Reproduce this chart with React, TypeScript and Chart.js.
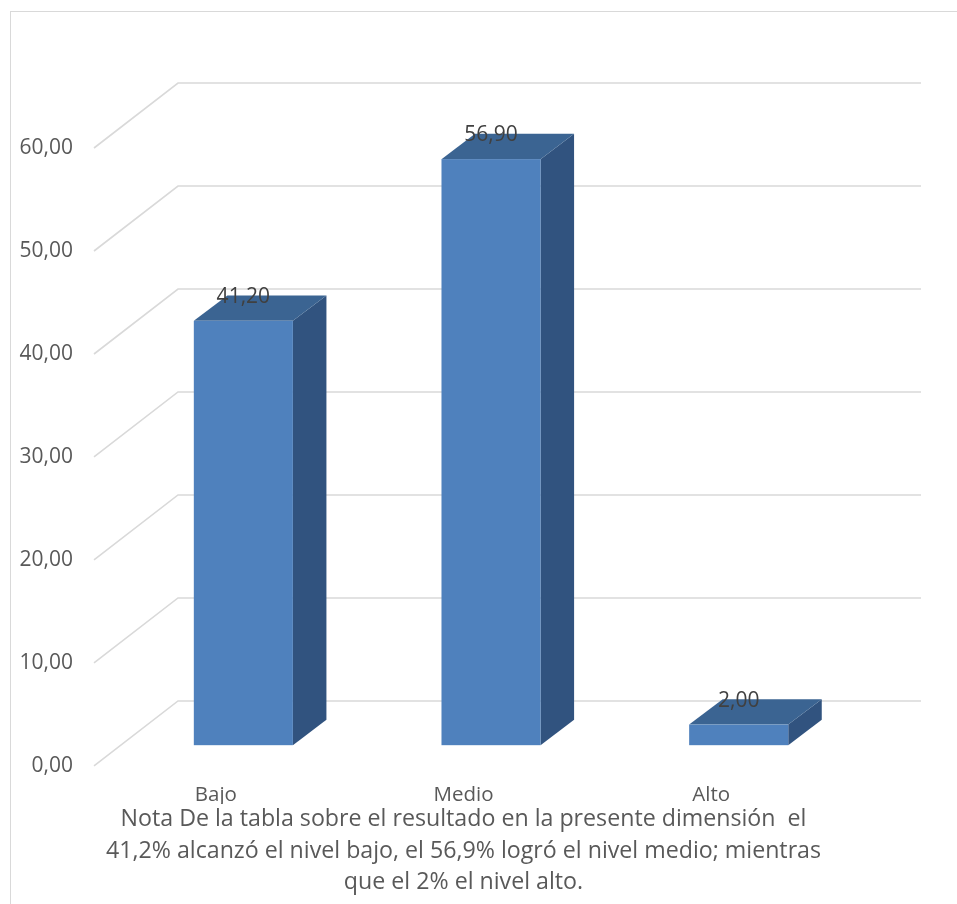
import React, { useEffect, useRef } from "react";
import { Chart, registerables } from "chart.js";

Chart.register(...registerables);

const categories = ["Bajo", "Medio", "Alto"];
const values = [41.2, 56.9, 2.0];
const yMin = 0;
const yMax = 60;
const yStep = 10;
const noteLines = [
  "Nota De la tabla sobre el resultado en la presente dimensión  el",
  "41,2% alcanzó el nivel bajo, el 56,9% logró el nivel medio; mientras",
  "que el 2% el nivel alto.",
];

const FONT = "'Open Sans', 'DejaVu Sans', sans-serif";
const DX = 86; // depth offset x (front wall -> back wall)
const DY = 65; // depth offset y
const F1 = 0.32; // bar front plane
const F2 = 0.71; // bar back plane

const fmt = (v: number) => v.toFixed(2).replace(".", ",");

const threeD = {
  id: "threeD",
  beforeDatasetsDraw(chart: any) {
    const { ctx, chartArea, scales } = chart;
    const y = scales.y;
    ctx.save();
    ctx.strokeStyle = "#D9D9D9";
    ctx.lineWidth = 1.6;
    y.ticks.forEach((t: any) => {
      const py = y.getPixelForValue(t.value);
      ctx.beginPath();
      ctx.moveTo(chartArea.left + 2, py);
      ctx.lineTo(chartArea.left + DX, py - DY);
      ctx.lineTo(chartArea.right + DX, py - DY);
      ctx.stroke();
    });
    ctx.restore();
  },
  afterDatasetsDraw(chart: any) {
    const { ctx } = chart;
    const meta = chart.getDatasetMeta(0);
    const ds = chart.data.datasets[0];
    meta.data.forEach((bar: any, i: number) => {
      const { x, y, base, width } = bar.getProps(["x", "y", "base", "width"], true);
      const fx = F1 * DX, fy = F1 * DY;
      const dx = (F2 - F1) * DX, dy = (F2 - F1) * DY;
      const l = x - width / 2 + fx;
      const r = x + width / 2 + fx;
      const top = y - fy;
      const bot = base - fy;
      ctx.save();
      // side face
      ctx.fillStyle = "#31537F";
      ctx.beginPath();
      ctx.moveTo(r, top);
      ctx.lineTo(r + dx, top - dy);
      ctx.lineTo(r + dx, bot - dy);
      ctx.lineTo(r, bot);
      ctx.closePath();
      ctx.fill();
      // top face
      ctx.fillStyle = "#3B6492";
      ctx.beginPath();
      ctx.moveTo(l, top);
      ctx.lineTo(r, top);
      ctx.lineTo(r + dx, top - dy);
      ctx.lineTo(l + dx, top - dy);
      ctx.closePath();
      ctx.fill();
      // front face
      ctx.fillStyle = "#4F81BD";
      ctx.fillRect(l, top, r - l, bot - top);
      // label
      ctx.fillStyle = "#404040";
      ctx.font = `21px ${FONT}`;
      ctx.textAlign = "center";
      ctx.textBaseline = "middle";
      ctx.fillText(fmt(ds.data[i]), x + fx, top - 24);
      ctx.restore();
    });
  },
};

export default function App() {
  const ref = useRef<HTMLCanvasElement>(null);
  useEffect(() => {
    if (!ref.current) return;
    const chart = new Chart(ref.current, {
      type: "bar",
      data: {
        labels: categories,
        datasets: [
          {
            data: values,
            backgroundColor: "rgba(0,0,0,0)",
            borderWidth: 0,
            categoryPercentage: 1,
            barPercentage: 0.4,
          },
        ],
      },
      options: {
        animation: false,
        responsive: false,
        layout: { padding: { left: 0, top: 148, right: 122, bottom: 5.5 } },
        plugins: {
          legend: { display: false },
          tooltip: { enabled: false },
          title: {
            display: true,
            position: "bottom",
            fullSize: false,
            text: noteLines,
            color: "#595959",
            font: { family: FONT, size: 23.2, weight: "normal", lineHeight: 1.358 },
            padding: { top: 0, bottom: 0 },
          },
        },
        scales: {
          x: {
            grid: { display: false, drawTicks: false },
            border: { display: false },
            ticks: { color: "#595959", font: { family: FONT, size: 20.5 }, padding: 17 },
            afterFit: (s: any) => {
              s.height = 38;
            },
          },
          y: {
            min: yMin,
            max: yMax,
            grid: { display: false, drawTicks: false },
            border: { display: false },
            ticks: {
              stepSize: yStep,
              color: "#595959",
              font: { family: FONT, size: 21 },
              padding: 19,
              callback: (v: any) => fmt(Number(v)),
            },
            afterFit: (s: any) => {
              s.width = 92;
            },
          },
        },
      },
      plugins: [threeD],
    });
    return () => chart.destroy();
  }, []);
  return (
    <div style={{ position: "fixed", left: 0, top: 0, width: 957, height: 904, background: "#fff", overflow: "hidden" }}>
      <div
        style={{
          position: "absolute",
          left: 10,
          top: 11,
          width: 980,
          height: 920,
          borderLeft: "1.5px solid #D9D9D9",
          borderTop: "1.5px solid #D9D9D9",
        }}
      />
      <canvas ref={ref} width={957} height={904} style={{ position: "absolute", left: 0, top: 0 }} />
    </div>
  );
}
